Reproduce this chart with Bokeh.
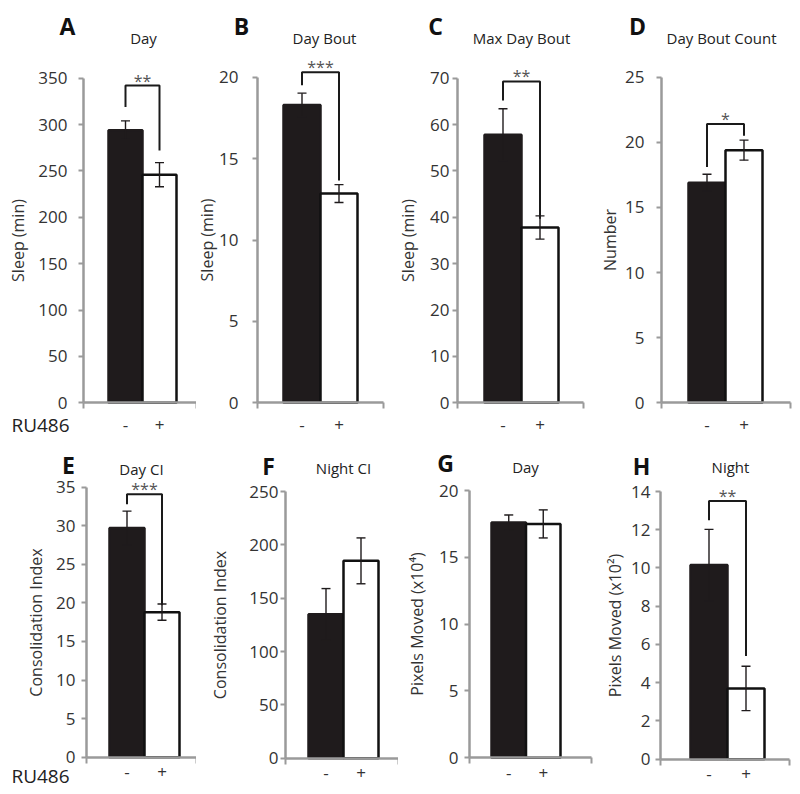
from bokeh.plotting import figure
from bokeh.models import (Range1d, FixedTicker, ColumnDataSource, Whisker, TeeHead,
                          Label, LinearAxis)
from bokeh.layouts import column, row
from bokeh.embed import file_html
from bokeh.resources import INLINE

# ---------------- data ----------------
panel_letters = ["A", "B", "C", "D", "E", "F", "G", "H"]
panel_titles = ["Day", "Day Bout", "Max Day Bout", "Day Bout Count",
                "Day CI", "Night CI", "Day", "Night"]
y_labels = ["Sleep (min)", "Sleep (min)", "Sleep (min)", "Number",
            "Consolidation Index", "Consolidation Index",
            "Pixels Moved (x10\u2074)", "Pixels Moved (x10\u00b2)"]
groups = ["-", "+"]
group_x = [1, 2]
mean_minus = [294, 18.3, 57.8, 16.9, 29.7, 135, 17.6, 10.15]
mean_plus = [246, 12.85, 37.8, 19.4, 18.8, 185, 17.5, 3.7]
sem_minus = [10, 0.72, 5.6, 0.65, 2.2, 24, 0.57, 1.87]
sem_plus = [13, 0.55, 2.5, 0.77, 1.05, 21.5, 1.05, 1.16]
y_ticks = [
    [0, 50, 100, 150, 200, 250, 300, 350],
    [0, 5, 10, 15, 20],
    [0, 10, 20, 30, 40, 50, 60, 70],
    [0, 5, 10, 15, 20, 25],
    [0, 5, 10, 15, 20, 25, 30, 35],
    [0, 50, 100, 150, 200, 250],
    [0, 5, 10, 15, 20],
    [0, 2, 4, 6, 8, 10, 12, 14],
]
# significance brackets (left leg end, top, right leg end, stars)
sig_left = [319, 19.5, 65.2, 18.1, 32.8, None, None, 12.5]
sig_top = [342, 20.3, 69.3, 21.4, 34.1, None, None, 13.5]
sig_right = [272, 13.65, 39.7, 20.5, 19.7, None, None, 5.4]
sig_stars = ["**", "***", "**", "*", "***", None, None, "**"]
treatment_name = "RU486"

# ---------------- layout (page pixels) ----------------
col_x0 = [0, 196, 398, 594]
col_w = [196, 202, 196, 204]
row_y0 = [0, 440]
row_h = [440, 350]
axis_left = [83, 257, 457, 661, 86, 285, 469, 660]
axis_right = [196, 383, 583, 790, 196, 398, 591, 789]
axis_top = [77.7, 76.7, 77.7, 76.7, 486.7, 491, 490, 491]
axis_bottom = [402.3, 402.3, 402.3, 402.3, 756.7, 757.7, 757.3, 758.7]
bar_left = [108, 283, 484, 688, 109, 308, 491, 690]
bar_right = [176, 357, 558, 762, 179, 378, 560, 764]
ytick_standoff = [11, 14, 3, 12, 6, 2, 6, 5]
ylabel_standoff = [6, -2, 8, 1, 6, 15, 8, 2]
letter_pos = [(67, 25), (241, 25), (435, 25), (637, 25),
              (68, 464), (268, 465), (445, 462), (641, 465)]
title_pos = [(143, 37), (324, 37), (521, 37), (721, 37),
             (141, 468), (343, 467), (525, 466), (730, 466)]
xlabel_standoff = [10, 3]
ru486_pos = [(40, 424), (40, 775)]

FONT = "Open Sans"
AXIS_COLOR = "#9a9a9a"
TEXT_COLOR = "#333333"
BAR_DARK = "#1f1b1c"

figs = []
for i in range(8):
    r, c = divmod(i, 4)
    fig_w, fig_h = col_w[c], row_h[r]
    ymax = y_ticks[i][-1]
    upp = ymax / (axis_bottom[i] - axis_top[i])        # data units per pixel (y)
    ppu = (bar_right[i] - bar_left[i]) / 2.0            # pixels per x unit

    def xd(px, i=i, ppu=ppu):
        return 0.5 + (px - bar_left[i]) / ppu

    def yd(py, i=i, upp=upp):
        return (axis_bottom[i] - py) * upp

    p = figure(width=fig_w, height=fig_h, output_backend="svg", toolbar_location=None,
               x_range=Range1d(xd(col_x0[c]), xd(col_x0[c] + fig_w)),
               y_range=Range1d(yd(row_y0[r] + fig_h), yd(row_y0[r])),
               x_axis_location=None, y_axis_location=None,
               min_border=0, min_border_left=0, min_border_right=0,
               min_border_top=0, min_border_bottom=0,
               background_fill_color="white", border_fill_color="white")
    p.outline_line_color = None
    p.grid.visible = False

    x0, x1 = xd(axis_left[i]), xd(axis_right[i])

    # axes
    ya = LinearAxis(fixed_location=x0, bounds=(0, ymax),
                    ticker=FixedTicker(ticks=y_ticks[i]))
    ya.axis_line_color = AXIS_COLOR
    ya.axis_line_width = 2.5
    ya.major_tick_line_color = AXIS_COLOR
    ya.major_tick_line_width = 2
    ya.major_tick_out = 5
    ya.major_tick_in = 0
    ya.minor_tick_line_color = None
    ya.major_label_standoff = ytick_standoff[i]
    ya.major_label_text_font = FONT
    ya.major_label_text_font_size = "17px"
    ya.major_label_text_color = TEXT_COLOR
    ya.axis_label = y_labels[i]
    ya.axis_label_standoff = ylabel_standoff[i]
    ya.axis_label_text_font = FONT
    ya.axis_label_text_font_size = "16px"
    ya.axis_label_text_font_style = "normal"
    ya.axis_label_text_color = TEXT_COLOR
    p.add_layout(ya, "left")

    xa = LinearAxis(fixed_location=0, bounds=(x0, x1),
                    ticker=FixedTicker(ticks=group_x, minor_ticks=[x0 + 0.01, x1 - 0.01]))
    xa.major_label_overrides = {group_x[0]: groups[0], group_x[1]: groups[1]}
    xa.axis_line_color = AXIS_COLOR
    xa.axis_line_width = 2.5
    xa.major_tick_line_color = None
    xa.major_tick_out = 0
    xa.major_tick_in = 0
    xa.minor_tick_line_color = AXIS_COLOR
    xa.minor_tick_line_width = 2
    xa.minor_tick_out = 6
    xa.minor_tick_in = 0
    xa.major_label_standoff = xlabel_standoff[r]
    xa.major_label_text_font = FONT
    xa.major_label_text_font_size = "17px"
    xa.major_label_text_color = TEXT_COLOR
    p.add_layout(xa, "below")

    # bars
    src = ColumnDataSource(dict(
        x=group_x,
        top=[mean_minus[i], mean_plus[i]],
        upper=[mean_minus[i] + sem_minus[i], mean_plus[i] + sem_plus[i]],
        lower=[mean_minus[i] - sem_minus[i], mean_plus[i] - sem_plus[i]],
        fill=[BAR_DARK, "#ffffff"],
        line=[BAR_DARK, "#111111"],
    ))
    p.vbar(x="x", top="top", bottom=0, width=1, source=src,
           fill_color="fill", line_color="line", line_width=2.5)
    wh = Whisker(base="x", upper="upper", lower="lower", source=src,
                 line_color=BAR_DARK, line_width=1.4, level="annotation",
                 upper_head=TeeHead(size=9, line_color=BAR_DARK, line_width=1.4),
                 lower_head=TeeHead(size=9, line_color=BAR_DARK, line_width=1.4))
    p.add_layout(wh)

    # significance bracket
    if sig_stars[i] is not None:
        p.line(x=[group_x[0], group_x[0], group_x[1], group_x[1]],
               y=[sig_left[i], sig_top[i], sig_top[i], sig_right[i]],
               line_color="#1a1a1a", line_width=2)
        p.add_layout(Label(x=(group_x[0] + group_x[1]) / 2, y=sig_top[i] + 5 * upp,
                           text=sig_stars[i], text_align="center", text_baseline="middle",
                           text_font=FONT, text_font_size="16px", text_color="#555555"))

    # panel letter and title
    lx, ly = letter_pos[i]
    p.add_layout(Label(x=xd(lx), y=yd(ly), text=panel_letters[i], text_align="center",
                       text_baseline="middle", text_font=FONT, text_font_size="23px",
                       text_font_style="bold", text_color="#111111"))
    tx, ty = title_pos[i]
    p.add_layout(Label(x=xd(tx), y=yd(ty), text=panel_titles[i], text_align="center",
                       text_baseline="middle", text_font=FONT, text_font_size="15px",
                       text_color="#222222"))
    if c == 0:
        rx, ry = ru486_pos[r]
        p.add_layout(Label(x=xd(rx), y=yd(ry), text=treatment_name, text_align="center",
                           text_baseline="middle", text_font=FONT, text_font_size="19px",
                           text_color="#222222"))
    figs.append(p)

layout = column(row(*figs[:4]), row(*figs[4:]))
open("out.html", "w").write(file_html(layout, INLINE))
